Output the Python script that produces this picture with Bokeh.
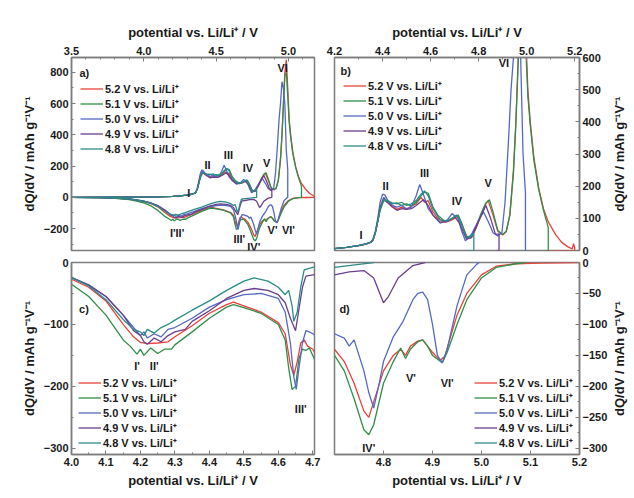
import math
from bokeh.plotting import figure
from bokeh.layouts import gridplot
from bokeh.models import (Range1d, SingleIntervalTicker, FixedTicker, Legend, LegendItem, Label,
                          PrintfTickFormatter)
from bokeh.embed import file_html
from bokeh.resources import INLINE

# ---------------- data ----------------
series_labels = ["5.2 V vs. Li/Li\u207a", "5.1 V vs. Li/Li\u207a", "5.0 V vs. Li/Li\u207a",
                 "4.9 V vs. Li/Li\u207a", "4.8 V vs. Li/Li\u207a"]
series_colors = ["#e8413a", "#2f8f4a", "#5468c4", "#6a3f8c", "#2b8c86"]

# charge branches (ascending potential)
chg52_x = [3.5, 3.8, 4.0, 4.1, 4.2, 4.25, 4.3, 4.33, 4.35, 4.36, 4.37, 4.38, 4.39, 4.405, 4.42, 4.44, 4.46, 4.48, 4.5, 4.52, 4.54, 4.56, 4.575, 4.59, 4.61, 4.63, 4.66, 4.68, 4.7, 4.71, 4.73, 4.75, 4.77, 4.79, 4.81, 4.83, 4.84, 4.86, 4.88, 4.9, 4.915, 4.93, 4.945, 4.955, 4.965, 4.975, 4.985, 4.995, 5.005, 5.015, 5.03, 5.05, 5.07, 5.09, 5.12, 5.145, 5.17, 5.19, 5.195, 5.2]
chg52_y = [0, 1, 2, 3, 6, 10, 15, 20, 25, 32, 55, 90, 130, 160, 150, 140, 128, 135, 128, 138, 145, 165, 150, 155, 120, 100, 88, 92, 100, 105, 80, 45, 40, 70, 110, 145, 155, 110, 60, 48, 58, 110, 250, 400, 600, 800, 880, 700, 500, 400, 290, 195, 130, 89, 50, 26, 12, 5, 21, 10]

chg51_x = [3.5, 3.8, 4.0, 4.1, 4.2, 4.25, 4.3, 4.33, 4.35, 4.36, 4.37, 4.38, 4.39, 4.405, 4.42, 4.44, 4.46, 4.48, 4.5, 4.52, 4.54, 4.56, 4.575, 4.59, 4.61, 4.63, 4.66, 4.68, 4.7, 4.715, 4.73, 4.75, 4.77, 4.79, 4.81, 4.83, 4.845, 4.86, 4.88, 4.9, 4.915, 4.93, 4.945, 4.955, 4.965, 4.975, 4.985, 4.995, 5.005, 5.015, 5.03, 5.05, 5.07, 5.085, 5.09]
chg51_y = [0, 1, 2, 3, 6, 10, 15, 20, 25, 32, 55, 90, 125, 155, 152, 145, 148, 140, 145, 138, 150, 170, 182, 178, 135, 110, 90, 95, 105, 110, 85, 42, 45, 75, 115, 148, 158, 120, 62, 50, 60, 110, 240, 390, 590, 780, 800, 650, 480, 390, 280, 190, 125, 85, 70]

chg50_x = [3.5, 3.8, 4.0, 4.1, 4.2, 4.25, 4.3, 4.33, 4.35, 4.36, 4.37, 4.38, 4.39, 4.4, 4.41, 4.42, 4.44, 4.46, 4.48, 4.5, 4.52, 4.54, 4.555, 4.57, 4.59, 4.61, 4.64, 4.67, 4.69, 4.7, 4.71, 4.73, 4.745, 4.77, 4.8, 4.82, 4.84, 4.86, 4.88, 4.897, 4.91, 4.925, 4.935, 4.945, 4.955, 4.965, 4.975, 4.985, 4.995]
chg50_y = [0, 1, 2, 3, 6, 10, 16, 21, 26, 35, 60, 100, 150, 175, 172, 158, 140, 135, 140, 130, 135, 170, 205, 175, 130, 110, 85, 95, 115, 108, 110, 60, 30, 50, 95, 120, 90, 55, 45, 55, 150, 350, 500, 600, 740, 700, 600, 300, 180]

chg49_x = [3.5, 3.8, 4.0, 4.1, 4.2, 4.25, 4.3, 4.33, 4.35, 4.36, 4.37, 4.38, 4.39, 4.405, 4.42, 4.44, 4.46, 4.48, 4.5, 4.52, 4.54, 4.57, 4.59, 4.61, 4.64, 4.67, 4.7, 4.72, 4.75, 4.77, 4.8, 4.83, 4.85, 4.87, 4.885]
chg49_y = [0, 1, 2, 3, 6, 10, 15, 20, 25, 32, 55, 92, 135, 165, 150, 135, 125, 130, 128, 130, 140, 158, 140, 110, 88, 90, 105, 85, 35, 40, 90, 140, 100, 50, 52]

chg48_x = [3.5, 3.8, 4.0, 4.1, 4.2, 4.25, 4.3, 4.33, 4.35, 4.36, 4.37, 4.38, 4.39, 4.405, 4.42, 4.44, 4.46, 4.48, 4.5, 4.52, 4.54, 4.56, 4.575, 4.59, 4.61, 4.64, 4.67, 4.7, 4.71, 4.73, 4.75, 4.77, 4.78]
chg48_y = [0, 1, 2, 3, 6, 10, 15, 20, 25, 32, 55, 90, 128, 160, 155, 148, 145, 150, 140, 145, 155, 175, 185, 170, 130, 95, 92, 105, 108, 80, 40, 45, 55]

# discharge branches (listed in ascending potential)
dis52_x = [3.5, 3.7, 3.8, 3.9, 3.95, 4.0, 4.05, 4.1, 4.15, 4.18, 4.2, 4.22, 4.25, 4.28, 4.3, 4.35, 4.4, 4.45, 4.47, 4.5, 4.55, 4.6, 4.62, 4.635, 4.645, 4.655, 4.665, 4.675, 4.685, 4.7, 4.72, 4.74, 4.76, 4.77, 4.78, 4.8, 4.82, 4.835, 4.845, 4.855, 4.87, 4.88, 4.89, 4.9, 4.915, 4.925, 4.935, 4.95, 4.97, 5.0, 5.03, 5.07, 5.12, 5.2]
dis52_y = [0, -2, -5, -12, -18, -27, -40, -62, -100, -120, -129, -131, -130, -128, -120, -102, -82, -68, -64, -70, -80, -97, -115, -165, -182, -160, -130, -125, -135, -140, -160, -195, -240, -250, -225, -175, -150, -140, -150, -135, -127, -125, -135, -145, -158, -152, -125, -85, -50, -20, -6, -2, -1, 0]

dis51_x = [3.5, 3.7, 3.8, 3.9, 3.95, 4.0, 4.05, 4.1, 4.15, 4.17, 4.19, 4.2, 4.21, 4.23, 4.25, 4.27, 4.29, 4.3, 4.35, 4.4, 4.45, 4.47, 4.5, 4.55, 4.6, 4.62, 4.63, 4.64, 4.65, 4.66, 4.67, 4.68, 4.69, 4.7, 4.72, 4.74, 4.76, 4.77, 4.78, 4.8, 4.82, 4.835, 4.845, 4.855, 4.87, 4.88, 4.89, 4.9, 4.92, 4.93, 4.95, 4.97, 5.0, 5.03, 5.07, 5.09]
dis51_y = [0, -3, -7, -15, -24, -35, -55, -85, -125, -135, -148, -140, -150, -138, -147, -140, -140, -133, -112, -90, -72, -68, -73, -82, -100, -125, -170, -205, -200, -155, -140, -142, -138, -150, -175, -220, -270, -278, -262, -195, -160, -138, -155, -140, -128, -125, -135, -150, -162, -145, -100, -60, -25, -8, -2, 0]

dis50_x = [3.5, 3.7, 3.8, 3.9, 3.95, 4.0, 4.05, 4.1, 4.15, 4.18, 4.2, 4.21, 4.22, 4.24, 4.26, 4.28, 4.3, 4.35, 4.4, 4.45, 4.5, 4.55, 4.6, 4.62, 4.635, 4.645, 4.652, 4.66, 4.67, 4.68, 4.69, 4.7, 4.72, 4.73, 4.74, 4.75, 4.76, 4.77, 4.78, 4.79, 4.8, 4.82, 4.84, 4.86, 4.87, 4.88, 4.89, 4.9, 4.91, 4.92, 4.93, 4.95, 4.97, 4.99, 4.995]
dis50_y = [0, -2, -4, -10, -17, -25, -37, -55, -85, -105, -118, -112, -122, -115, -120, -108, -105, -90, -72, -60, -52, -50, -58, -80, -130, -185, -205, -170, -130, -110, -112, -115, -122, -135, -125, -150, -175, -210, -235, -200, -160, -120, -95, -60, -50, -48, -60, -100, -150, -162, -140, -70, -20, -3, 0]

dis49_x = [3.5, 3.7, 3.8, 3.9, 3.95, 4.0, 4.05, 4.1, 4.15, 4.18, 4.2, 4.21, 4.22, 4.24, 4.26, 4.28, 4.3, 4.33, 4.35, 4.4, 4.45, 4.5, 4.53, 4.57, 4.6, 4.62, 4.635, 4.65, 4.66, 4.67, 4.68, 4.7, 4.73, 4.76, 4.78, 4.8, 4.81, 4.83, 4.86, 4.885]
dis49_y = [0, -2, -4, -10, -16, -24, -36, -55, -85, -110, -118, -128, -132, -122, -128, -118, -112, -108, -95, -78, -58, -45, -42, -45, -52, -65, -90, -110, -75, -40, -22, -20, -15, -13, -25, -65, -55, -25, -5, 0]

dis48_x = [3.5, 3.7, 3.8, 3.9, 3.95, 4.0, 4.05, 4.1, 4.15, 4.18, 4.2, 4.21, 4.22, 4.24, 4.26, 4.28, 4.3, 4.35, 4.4, 4.45, 4.5, 4.53, 4.57, 4.6, 4.62, 4.63, 4.64, 4.645, 4.655, 4.665, 4.675, 4.7, 4.75, 4.78]
dis48_y = [0, -2, -4, -10, -16, -24, -38, -60, -92, -108, -112, -118, -108, -114, -105, -100, -93, -77, -62, -45, -30, -25, -30, -40, -52, -45, -70, -95, -80, -40, -12, -8, -3, 0]

# peak annotations
a_peak_text = ["I", "II", "III", "IV", "V", "VI", "I'II'", "III'", "IV'", "V'", "VI'"]
a_peak_x = [4.31, 4.44, 4.585, 4.72, 4.85, 4.96, 4.23, 4.66, 4.76, 4.89, 5.0]
a_peak_y = [25, 205, 270, 185, 218, 825, -225, -265, -320, -210, -210]
b_peak_text = ["I", "II", "III", "IV", "V", "VI"]
b_peak_x = [4.31, 4.413, 4.575, 4.71, 4.84, 4.905]
b_peak_y = [47, 202, 240, 155, 211, 583]
c_peak_text = ["I'", "II'", "III'"]
c_peak_x = [4.19, 4.24, 4.665]
c_peak_y = [-167, -167, -237]
d_peak_text = ["IV'", "V'", "VI'"]
d_peak_x = [4.77, 4.856, 4.93]
d_peak_y = [-299, -186, -194]

# ---------------- build ----------------
FONT = "Liberation Sans"
AXC = "#7d7d7d"
TXT = "#1a1a1a"
XTITLE = "potential vs. Li/Li\u207a / V"
YTITLE = "dQ/dV / mAh g\u207b\u00b9V\u207b\u00b9"

charges = [(chg52_x, chg52_y), (chg51_x, chg51_y), (chg50_x, chg50_y), (chg49_x, chg49_y), (chg48_x, chg48_y)]
discharges = [(dis52_x, dis52_y), (dis51_x, dis51_y), (dis50_x, dis50_y), (dis49_x, dis49_y), (dis48_x, dis48_y)]
loops = []
for (cx, cy), (dx, dy) in zip(charges, discharges):
    loops.append((list(cx) + list(dx)[::-1], list(cy) + list(dy)[::-1]))


def make_panel(width, height, xr, yr, xloc, yloc, borders, xticker, yticker, xfmt,
               ytitle_on_axis, letter, letter_pos, peaks, legend_loc):
    bl, br, bt, bb = borders
    p = figure(width=width, height=height, x_range=Range1d(*xr), y_range=Range1d(*yr),
               x_axis_location=xloc, y_axis_location=yloc, toolbar_location=None,
               output_backend="svg", min_border_left=bl, min_border_right=br,
               min_border_top=bt, min_border_bottom=bb)
    p.xgrid.visible = False
    p.ygrid.visible = False
    p.outline_line_color = AXC
    p.outline_line_width = 1.5
    p.background_fill_color = "white"
    p.border_fill_color = "white"
    p.xaxis.ticker = xticker
    p.yaxis.ticker = yticker
    p.xaxis.formatter = PrintfTickFormatter(format=xfmt)
    p.xaxis.axis_label = XTITLE
    if ytitle_on_axis:
        p.yaxis.axis_label = YTITLE
    for ax in p.xaxis + p.yaxis:
        ax.axis_line_color = AXC
        ax.axis_line_width = 1.5
        ax.major_tick_in = 4
        ax.major_tick_out = 0
        ax.minor_tick_in = 2
        ax.minor_tick_out = 0
        ax.major_tick_line_color = AXC
        ax.minor_tick_line_color = AXC
        ax.major_label_text_font = FONT
        ax.major_label_text_font_style = "bold"
        ax.major_label_text_font_size = "11px"
        ax.major_label_text_color = TXT
        ax.major_label_standoff = 3
        ax.axis_label_text_font = FONT
        ax.axis_label_text_font_style = "bold"
        ax.axis_label_text_font_size = "13px"
        ax.axis_label_text_color = TXT
        ax.axis_label_standoff = 4

    items = []
    for i in range(5):
        lx, ly = loops[i]
        r = p.line(lx, ly, line_color=series_colors[i], line_width=1.3)
        items.append(LegendItem(label=series_labels[i], renderers=[r]))
    leg = Legend(items=items, location=legend_loc, orientation="vertical",
                 label_text_font=FONT, label_text_font_style="bold",
                 label_text_font_size="11px", label_text_color=TXT,
                 glyph_width=23, glyph_height=15, label_height=15, label_standoff=2,
                 spacing=0, padding=0, margin=0,
                 background_fill_alpha=0, border_line_alpha=0)
    p.add_layout(leg)

    p.add_layout(Label(x=letter_pos[0], y=letter_pos[1], text=letter, text_font=FONT,
                       text_font_style="bold", text_font_size="11px", text_color=TXT,
                       text_align="left", text_baseline="middle"))
    px, py, pt = peaks
    for xx, yy, tt in zip(px, py, pt):
        p.add_layout(Label(x=xx, y=yy, text=tt, text_font=FONT, text_font_style="bold",
                           text_font_size="11px", text_color=TXT,
                           text_align="center", text_baseline="middle"))
    return p


def title_strip(width, height, bt, bb):
    # narrow figure holding the right-hand y-axis title (reads bottom to top)
    t = figure(width=width, height=height, x_range=Range1d(0, 1), y_range=Range1d(0, 1),
               toolbar_location=None, output_backend="svg", x_axis_type=None, y_axis_type=None,
               min_border_left=0, min_border_right=0, min_border_top=bt, min_border_bottom=bb)
    t.xgrid.visible = False
    t.ygrid.visible = False
    t.outline_line_color = None
    t.background_fill_color = "white"
    t.border_fill_color = "white"
    t.add_layout(Label(x=0.5, y=0.5, text=YTITLE, angle=math.pi / 2, text_font=FONT,
                       text_font_style="bold", text_font_size="13px", text_color=TXT,
                       text_align="center", text_baseline="middle"))
    return t


pa = make_panel(324, 256, (3.5, 5.18), (-340, 895), "above", "left", (71, 10, 57, 6),
                SingleIntervalTicker(interval=0.5, num_minor_ticks=5),
                SingleIntervalTicker(interval=200, num_minor_ticks=2), "%.1f",
                True, "a)", (3.555, 795), (a_peak_x, a_peak_y, a_peak_text), (9, 94))
pb = make_panel(286, 256, (4.2, 5.22), (0, 600), "above", "right", (10, 27, 57, 6),
                SingleIntervalTicker(interval=0.2, num_minor_ticks=2),
                SingleIntervalTicker(interval=100, num_minor_ticks=2), "%.1f",
                False, "b)", (4.225, 559), (b_peak_x, b_peak_y, b_peak_text), (9, 97))
pc = make_panel(324, 234, (4.0, 4.705), (-310, 0), "below", "left", (71, 10, 6, 35),
                SingleIntervalTicker(interval=0.1, num_minor_ticks=2),
                SingleIntervalTicker(interval=100, num_minor_ticks=2), "%.1f",
                True, "c)", (4.022, -75), (c_peak_x, c_peak_y, c_peak_text), (7, 4))
pd = make_panel(286, 234, (4.7, 5.2), (-310, 0), "below", "right", (10, 27, 6, 35),
                FixedTicker(ticks=[4.8, 4.9, 5.0, 5.1, 5.2]),
                SingleIntervalTicker(interval=50, num_minor_ticks=2), "%.1f",
                False, "d)", (4.71, -75), (d_peak_x, d_peak_y, d_peak_text), (140, 4))
tb = title_strip(18, 256, 57, 6)
td = title_strip(18, 234, 6, 35)

grid = gridplot([[pa, pb, tb], [pc, pd, td]], toolbar_location=None)

with open("out.html", "w") as f:
    f.write(file_html(grid, INLINE))
